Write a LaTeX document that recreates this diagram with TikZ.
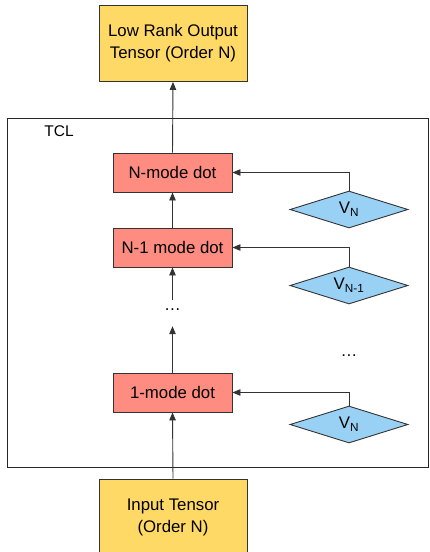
\documentclass[tikz,border=0pt]{standalone}
\usepackage{fontspec}
\setmainfont{Liberation Sans}
\usepackage{tikz}
\usetikzlibrary{arrows.meta,shapes.geometric}

\definecolor{tensorfill}{RGB}{255,217,102}
\definecolor{dotfill}{RGB}{255,140,128}
\definecolor{factorfill}{RGB}{153,209,245}
\definecolor{edgecol}{RGB}{51,51,51}

\tikzset{
	tensorbox/.style={draw=edgecol, line width=0.9pt, fill=tensorfill, minimum width=148pt, minimum height=76pt, inner sep=0pt, align=center, font=\fontsize{16.8}{22}\selectfont},
	modebox/.style={draw=edgecol, line width=0.9pt, fill=dotfill, minimum width=119pt, minimum height=39pt, inner sep=0pt, font=\fontsize{16.8}{20}\selectfont},
	factor/.style={diamond, draw=edgecol, line width=0.9pt, fill=factorfill, aspect=3.2, minimum width=118pt, minimum height=37pt, inner sep=0pt, font=\fontsize{16.8}{20}\selectfont},
	arr/.style={draw=edgecol, line width=0.9pt, -{Triangle[length=8pt,width=6.5pt]}},
}

\begin{document}
\begin{tikzpicture}[x=1pt, y=-1pt]
		%%%%% START %%%%%
		\useasboundingbox (0, 0) rectangle (429, 552);
		
		% TCL frame
		\draw[line width=0.9pt, color=black!85] (7, 118) rectangle (428.6, 467);
		\node[font=\fontsize{15.5}{18}\selectfont] (tcl) at (59, 131) {TCL};
		
		% tensors
		\node[tensorbox] (out) at (173, 43.5) {Low Rank Output\\Tensor (Order N)};
		\node[tensorbox] (in) at (173, 517) {Input Tensor\\(Order N)};
		
		% mode products
		\node[modebox] (nmode) at (172.5, 172.5) {N-mode dot};
		\node[modebox] (nonemode) at (172.5, 247.5) {N-1 mode dot};
		\node[inner sep=0pt, minimum height=26pt, font=\fontsize{16.8}{20}\selectfont] (gap) at (172.5, 313) {\raisebox{6pt}{\dots}};
		\node[modebox] (onemode) at (172.5, 392.5) {1-mode dot};
		
		% factor matrices
		\node[factor] (vn) at (349, 209.5) {V\textsubscript{N}};
		\node[factor] (vnone) at (349, 285.5) {V\textsubscript{N-1}};
		\node[inner sep=0pt, font=\fontsize{16.8}{20}\selectfont] (vgap) at (349, 356) {\dots};
		\node[factor] (vone) at (349, 424.5) {V\textsubscript{N}};
		
		% main chain
		\draw[arr] (in.north) -- (onemode.south);
		\draw[arr] (onemode.north) -- (gap.south);
		\draw[arr] (gap.north) -- (nonemode.south);
		\draw[arr] (nonemode.north) -- (nmode.south);
		\draw[arr] (nmode.north) -- (out.south);
		
		% factors into the products
		\draw[arr] (vn.north) |- (nmode.east);
		\draw[arr] (vnone.north) |- (nonemode.east);
		\draw[arr] (vone.north) |- (onemode.east);
		%%%%% END %%%%%
	\end{tikzpicture}
\end{document}
